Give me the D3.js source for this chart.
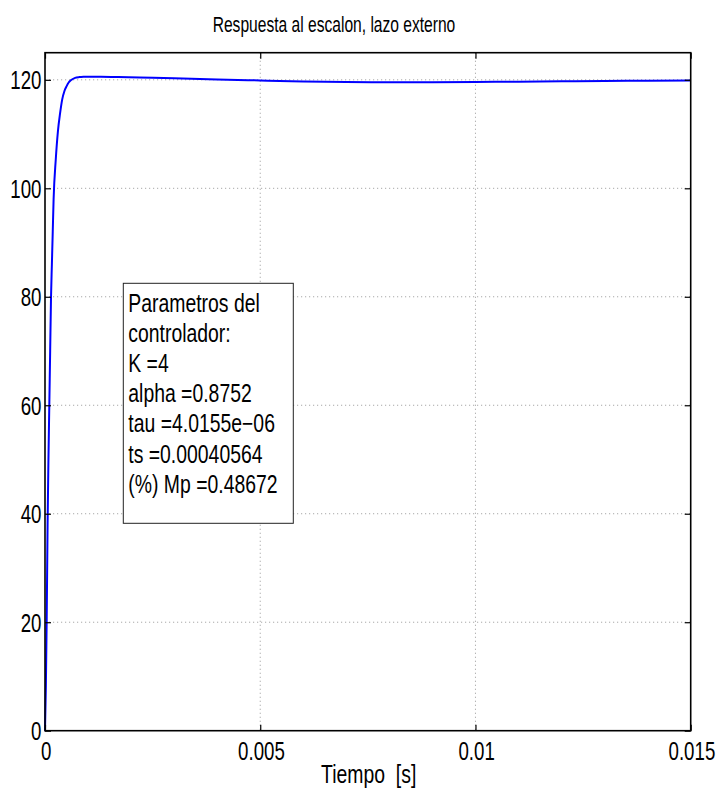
<!DOCTYPE html>
<html><head><meta charset="utf-8">
<script src="https://cdn.jsdelivr.net/npm/d3@7"></script>
<style>html,body{margin:0;padding:0;background:#fff;} svg{display:block;}</style>
</head><body>
<svg id="chart" width="719" height="791"></svg>
<script>
// ---- data ----
const timeValues = [0, 0.00002, 0.00004, 0.00006, 0.00008, 0.0001, 0.00012, 0.00014, 0.00016, 0.00018, 0.0002,
  0.00025, 0.0003, 0.00035, 0.0004, 0.00045, 0.0005, 0.00055, 0.0006, 0.0007, 0.0008, 0.0009, 0.001,
  0.0013, 0.0017, 0.0022, 0.003, 0.004, 0.005, 0.006, 0.007, 0.008, 0.009, 0.01, 0.011, 0.012, 0.013, 0.014, 0.015];
const responseValues = [0, 8, 21, 38, 50, 60, 70, 80, 86, 92, 98,
  105.3, 110.5, 113.8, 116.4, 117.9, 118.8, 119.5, 119.9, 120.35, 120.5, 120.56, 120.58,
  120.56, 120.5, 120.42, 120.3, 120.08, 119.88, 119.7, 119.58, 119.55, 119.56, 119.6, 119.66, 119.72, 119.78, 119.83, 119.87];
const xTicks = [0, 0.005, 0.01, 0.015];
const xTickLabels = ["0", "0.005", "0.01", "0.015"];
const yTicks = [0, 20, 40, 60, 80, 100, 120];
const yTickLabels = ["0", "20", "40", "60", "80", "100", "120"];
const titleText = "Respuesta al escalon, lazo externo";
const xLabelText = "Tiempo  [s]";
const boxLines = ["Parametros del", "controlador:", "K =4", "alpha =0.8752", "tau =4.0155e\u221206", "ts =0.00040564", "(%) Mp =0.48672"];

// ---- layout ----
const L = 45, R = 690.7, T = 52.7, B = 730.7;
const FONT = "'Liberation Sans', Arial, Helvetica, sans-serif";
const svg = d3.select("#chart");
const x = d3.scaleLinear().domain([0, 0.015]).range([L, R]);
const y = d3.scaleLinear().domain([0, 125]).range([B, T]);

// grid
const grid = svg.append("g").attr("stroke", "#a8a8a8").attr("stroke-width", 1).attr("stroke-dasharray", "1.2,2.8");
grid.selectAll(".gx").data(xTicks.slice(1, -1)).join("line")
  .attr("x1", d => x(d)).attr("x2", d => x(d)).attr("y1", T).attr("y2", B);
grid.selectAll(".gy").data(yTicks.slice(1)).join("line")
  .attr("x1", L).attr("x2", R).attr("y1", d => y(d)).attr("y2", d => y(d));

// line
const line = d3.line().x((d, i) => x(timeValues[i])).y(d => y(d)).curve(d3.curveMonotoneX);
svg.append("path").datum(responseValues).attr("d", line)
  .attr("fill", "none").attr("stroke", "#0000ff").attr("stroke-width", 2);

// axes
function styleAxis(g) {
  g.select(".domain").remove();
  g.selectAll(".tick line").attr("stroke", "#000").attr("stroke-width", 1.2);
}
const yAxis = svg.append("g").attr("transform", `translate(${L},0)`)
  .call(d3.axisLeft(y).tickValues(yTicks).tickSize(-6).tickFormat((d, i) => yTickLabels[i]));
styleAxis(yAxis);
yAxis.selectAll(".tick text").attr("x", null).attr("dy", null)
  .attr("transform", "translate(-3.5,9) scale(1,1.35)")
  .attr("text-anchor", "end").attr("font-family", FONT).attr("font-size", 18.7).attr("fill", "#000");

const xAxis = svg.append("g").attr("transform", `translate(0,${B})`)
  .call(d3.axisBottom(x).tickValues(xTicks).tickSize(-6).tickFormat((d, i) => xTickLabels[i]));
styleAxis(xAxis);
xAxis.selectAll(".tick text").attr("y", null).attr("dy", null)
  .attr("transform", "translate(0.7,29.3) scale(1,1.35)")
  .attr("text-anchor", "middle").attr("font-family", FONT).attr("font-size", 18.7).attr("fill", "#000");

const yAxisR = svg.append("g").attr("transform", `translate(${R},0)`)
  .call(d3.axisRight(y).tickValues(yTicks).tickSize(-6).tickFormat(""));
styleAxis(yAxisR);
const xAxisT = svg.append("g").attr("transform", `translate(0,${T})`)
  .call(d3.axisTop(x).tickValues(xTicks).tickSize(-6).tickFormat(""));
styleAxis(xAxisT);

// frame
svg.append("rect").attr("x", L).attr("y", T).attr("width", R - L).attr("height", B - T)
  .attr("fill", "none").attr("stroke", "#000").attr("stroke-width", 1.6);

// title
svg.append("text").attr("transform", "translate(334,31.7) scale(1,1.42)")
  .attr("text-anchor", "middle").attr("font-family", FONT).attr("font-size", 15.6).attr("fill", "#000")
  .text(titleText);

// x label
svg.append("text").attr("transform", "translate(368.7,783.3) scale(1,1.3)")
  .attr("text-anchor", "middle").attr("font-family", FONT).attr("font-size", 19.4).attr("fill", "#000")
  .style("white-space", "pre").attr("xml:space", "preserve")
  .text(xLabelText);

// annotation box
svg.append("rect").attr("x", 123.3).attr("y", 283.3).attr("width", 170).attr("height", 240)
  .attr("fill", "#fff").attr("stroke", "#222").attr("stroke-width", 1);
svg.append("g").selectAll("text").data(boxLines).join("text")
  .attr("transform", (d, i) => `translate(128.3,${312 + i * 30.1}) scale(1,1.3)`)
  .attr("font-family", FONT).attr("font-size", 19.4).attr("fill", "#000")
  .text(d => d);
</script>
</body></html>
